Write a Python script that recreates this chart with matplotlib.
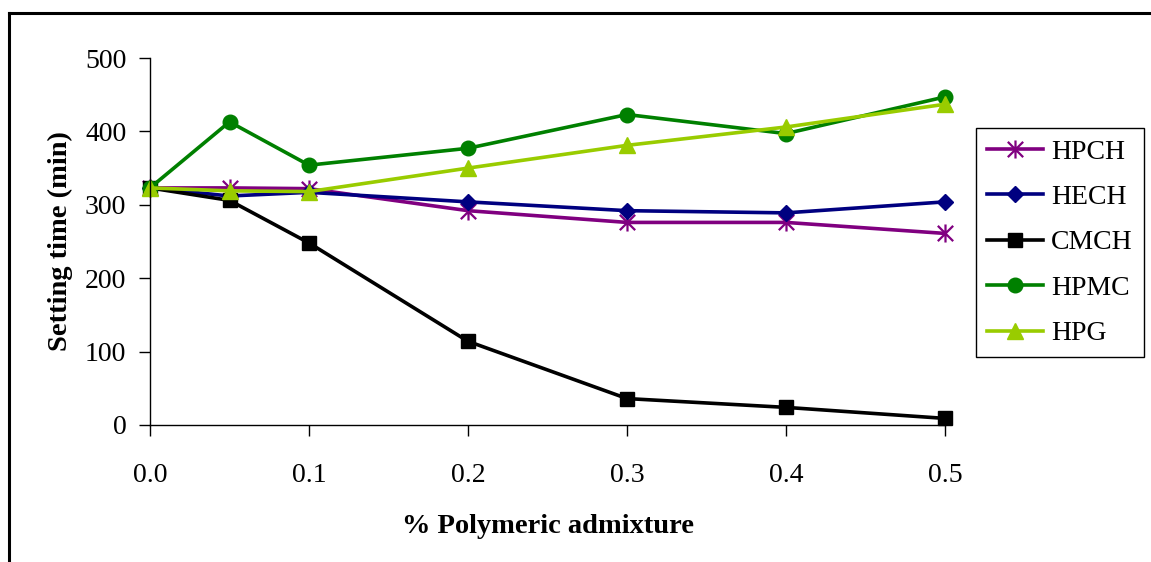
import matplotlib
matplotlib.use("Agg")
import matplotlib.pyplot as plt
from matplotlib.path import Path
from matplotlib.lines import Line2D

plt.rcParams['font.family'] = ['Liberation Serif', 'DejaVu Serif']

# Polymer dosage (% of cement weight)
dosage = [0.0, 0.05, 0.1, 0.2, 0.3, 0.4, 0.5]

# Setting time (min) for each admixture
hpch = [323, 323, 322, 292, 276, 276, 261]
hech = [323, 312, 317, 304, 292, 289, 304]
cmch = [323, 306, 248, 114, 36, 24, 9]
hpmc = [323, 413, 354, 377, 423, 397, 447]
hpg = [323, 319, 318, 350, 381, 406, 437]

x_ticks = [0.0, 0.1, 0.2, 0.3, 0.4, 0.5]
x_tick_labels = ["0.0", "0.1", "0.2", "0.3", "0.4", "0.5"]
y_ticks = [0, 100, 200, 300, 400, 500]

# asterisk marker: vertical bar plus an X
star = Path([(0, -1), (0, 1), (-0.85, -0.85), (0.85, 0.85), (-0.85, 0.85), (0.85, -0.85)],
            [Path.MOVETO, Path.LINETO, Path.MOVETO, Path.LINETO, Path.MOVETO, Path.LINETO])

W, H = 1151, 562
fig = plt.figure(figsize=(W / 100, H / 100), dpi=100)
ax = fig.add_axes([150 / W, 1 - 425 / H, (945 - 150) / W, (425 - 58) / H])

lw = 2.6
series = [
    ("HPCH", hpch, "#800080", dict(marker=star, markersize=13, markeredgewidth=1.6)),
    ("HECH", hech, "#000080", dict(marker="D", markersize=8.5)),
    ("CMCH", cmch, "#000000", dict(marker="s", markersize=9.5)),
    ("HPMC", hpmc, "#008000", dict(marker="o", markersize=10.5)),
    ("HPG", hpg, "#99CC00", dict(marker="^", markersize=12)),
]
for name, vals, col, mk in series:
    ax.plot(dosage, vals, color=col, lw=lw, label=name, markerfacecolor=col,
            markeredgecolor=col, clip_on=False, **mk)

ax.set_xlim(0, 0.5)
ax.set_ylim(0, 500)
ax.set_xticks(x_ticks)
ax.set_xticklabels(x_tick_labels)
ax.set_yticks(y_ticks)
for s in ("top", "right"):
    ax.spines[s].set_visible(False)
for s in ("left", "bottom"):
    ax.spines[s].set_linewidth(1.0)
ax.tick_params(axis="x", direction="out", length=8, width=1, pad=19, labelsize=20)
ax.tick_params(axis="y", direction="out", length=8, width=1, pad=9, labelsize=20)

ax.set_xlabel("% Polymeric admixture", fontsize=20.5, fontweight="bold", labelpad=19)
ax.set_ylabel("Setting time (min)", fontsize=20.5, fontweight="bold", labelpad=9)

leg = fig.legend(loc="upper left", bbox_to_anchor=(976 / W, 1 - 128 / H),
                 fontsize=20, frameon=True, fancybox=False, framealpha=1,
                 edgecolor="black", handlelength=2.0, handletextpad=0.3,
                 labelspacing=0.72, borderpad=0.4, borderaxespad=0)
leg.get_frame().set_linewidth(1.0)

# outer frame lines along the left and top of the figure
fx = 9 / W
fy = 1 - 13 / H
fig.add_artist(Line2D([fx, fx], [0, fy], transform=fig.transFigure, color="black", lw=2.2))
fig.add_artist(Line2D([fx, 1], [fy, fy], transform=fig.transFigure, color="black", lw=2.2))

fig.savefig("out.png", dpi=100)
